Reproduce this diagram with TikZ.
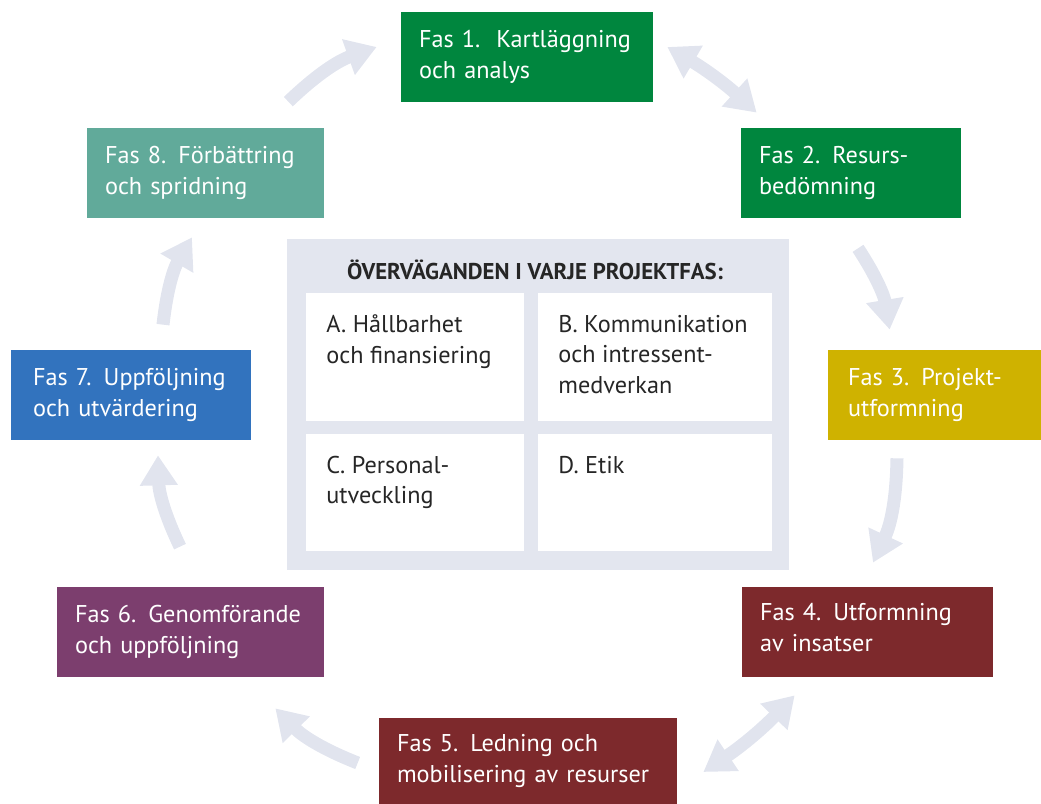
\documentclass[tikz,border=0pt]{standalone}
\usepackage{fontspec}
\setmainfont{PT Sans}
\usetikzlibrary{calc,arrows.meta,positioning}
\definecolor{fasgreen}{RGB}{0,134,62}
\definecolor{fasyellow}{RGB}{207,178,0}
\definecolor{fasred}{RGB}{125,41,44}
\definecolor{faspurple}{RGB}{124,62,110}
\definecolor{fasblue}{RGB}{50,115,190}
\definecolor{fasteal}{RGB}{97,170,154}
\definecolor{flowgray}{RGB}{225,228,238}
\definecolor{boxgray}{RGB}{227,230,239}

\begin{document}
\begin{tikzpicture}
   [x=0.02cm,y=0.02cm,
   phase/.style={shape=rectangle,minimum height=1.8cm,inner xsep=0.36cm,
   	text=white,align=left,font=\fontsize{13.8}{17.6}\selectfont},
   cell/.style={shape=rectangle,fill=white,inner sep=0pt,anchor=north west},
   celltxt/.style={anchor=north west,inner xsep=0.4cm,inner ysep=0.43cm,
   	align=left,text=black!85,font=\fontsize{13.8}{17.4}\selectfont},
   flow/.style={-{Triangle[width=0.72cm,length=0.6cm]},line width=0.26cm,
   	draw=flowgray},
   both/.style={{Triangle[width=0.72cm,length=0.6cm]}-{Triangle[width=0.72cm,length=0.6cm]},
   	line width=0.26cm,draw=flowgray}]
   \useasboundingbox (0,0) rectangle (1041,804);
   % faser
   \node[phase,fill=fasgreen,minimum width=5.04cm,text width=4.32cm] (f1) at (527,747)
   	{Fas 1.\ \ Kartläggning\\och analys};
   \node[phase,fill=fasgreen,minimum width=4.4cm,text width=3.68cm] (f2) at (851,631)
   	{Fas 2. Resurs-\\bedömning};
   \node[phase,fill=fasyellow,minimum width=4.26cm,text width=3.46cm,inner xsep=0.4cm] (f3) at (934.5,409)
   	{Fas 3. Projekt-\\utformning};
   \node[phase,fill=fasred,minimum width=5.02cm,text width=4.3cm] (f4) at (867.5,172)
   	{Fas 4. Utformning\\av insatser\strut};
   \node[phase,fill=fasred,minimum width=5.96cm,minimum height=1.72cm,text width=5.24cm] (f5) at (528,43)
   	{Fas 5. Ledning och\\mobilisering av resurser};
   \node[phase,fill=faspurple,minimum width=5.34cm,text width=4.62cm] (f6) at (190.5,172)
   	{Fas 6. Genomförande\\och uppföljning};
   \node[phase,fill=fasblue,minimum width=4.8cm,text width=3.92cm,inner xsep=0.44cm] (f7) at (131,409)
   	{Fas 7. Uppföljning\\och utvärdering};
   \node[phase,fill=fasteal,minimum width=4.74cm,text width=4.02cm] (f8) at (205.5,631)
   	{Fas 8. Förbättring\\och spridning};
   % mitten
   \node[shape=rectangle,fill=boxgray,minimum width=10.04cm,minimum height=6.62cm] (mid) at (538,399.5) {};
   \node[text=black!85,font=\bfseries\fontsize{13}{15}\selectfont] (title) at (535,534)
   	{ÖVERVÄGANDEN I VARJE PROJEKTFAS:};
   \node[cell,minimum width=4.36cm,minimum height=2.56cm] (cA) at (306,511) {};
   \node[cell,minimum width=4.68cm,minimum height=2.56cm] (cB) at (538,511) {};
   \node[cell,minimum width=4.36cm,minimum height=2.34cm] (cC) at (306,370) {};
   \node[cell,minimum width=4.68cm,minimum height=2.34cm] (cD) at (538,370) {};
   \node[celltxt] (tA) at (cA.north west) {A. Hållbarhet\\och finansiering};
   \node[celltxt] (tB) at (cB.north west) {B. Kommunikation\\och intressent-\\medverkan};
   \node[celltxt] (tC) at (cC.north west) {C. Personal-\\utveckling};
   \node[celltxt] (tD) at (cD.north west) {D. Etik};
   % pilar
   \foreach \s/\sx/\sy/\e/\ex/\ey in {f8.north east/-36/26/f1.west/-24/10,
   	f2.south/7/-30/f3.north west/62/20,
   	f3.south/-37.5/-18/f4.north/5.5/24,
   	f5.west/-21/-2/f6.south east/-49/-31,
   	f6.north/-10.5/40/f7.south/27/-15,
   	f7.north/32/25/f8.south/-13.5/-19}
   {
   	\draw[flow] ($(\s)+(\sx,\sy)$) to[bend left=12] ($(\e)+(\ex,\ey)$);
   }
   \draw[both] ($(f1.east)+(14,10)$) to[bend left=6] ($(f2.north west)+(16,15)$);
   \draw[both] ($(f4.south west)+(53,-18)$) to[bend left=6] ($(f5.east)+(26,-11)$);
\end{tikzpicture}
\end{document}
